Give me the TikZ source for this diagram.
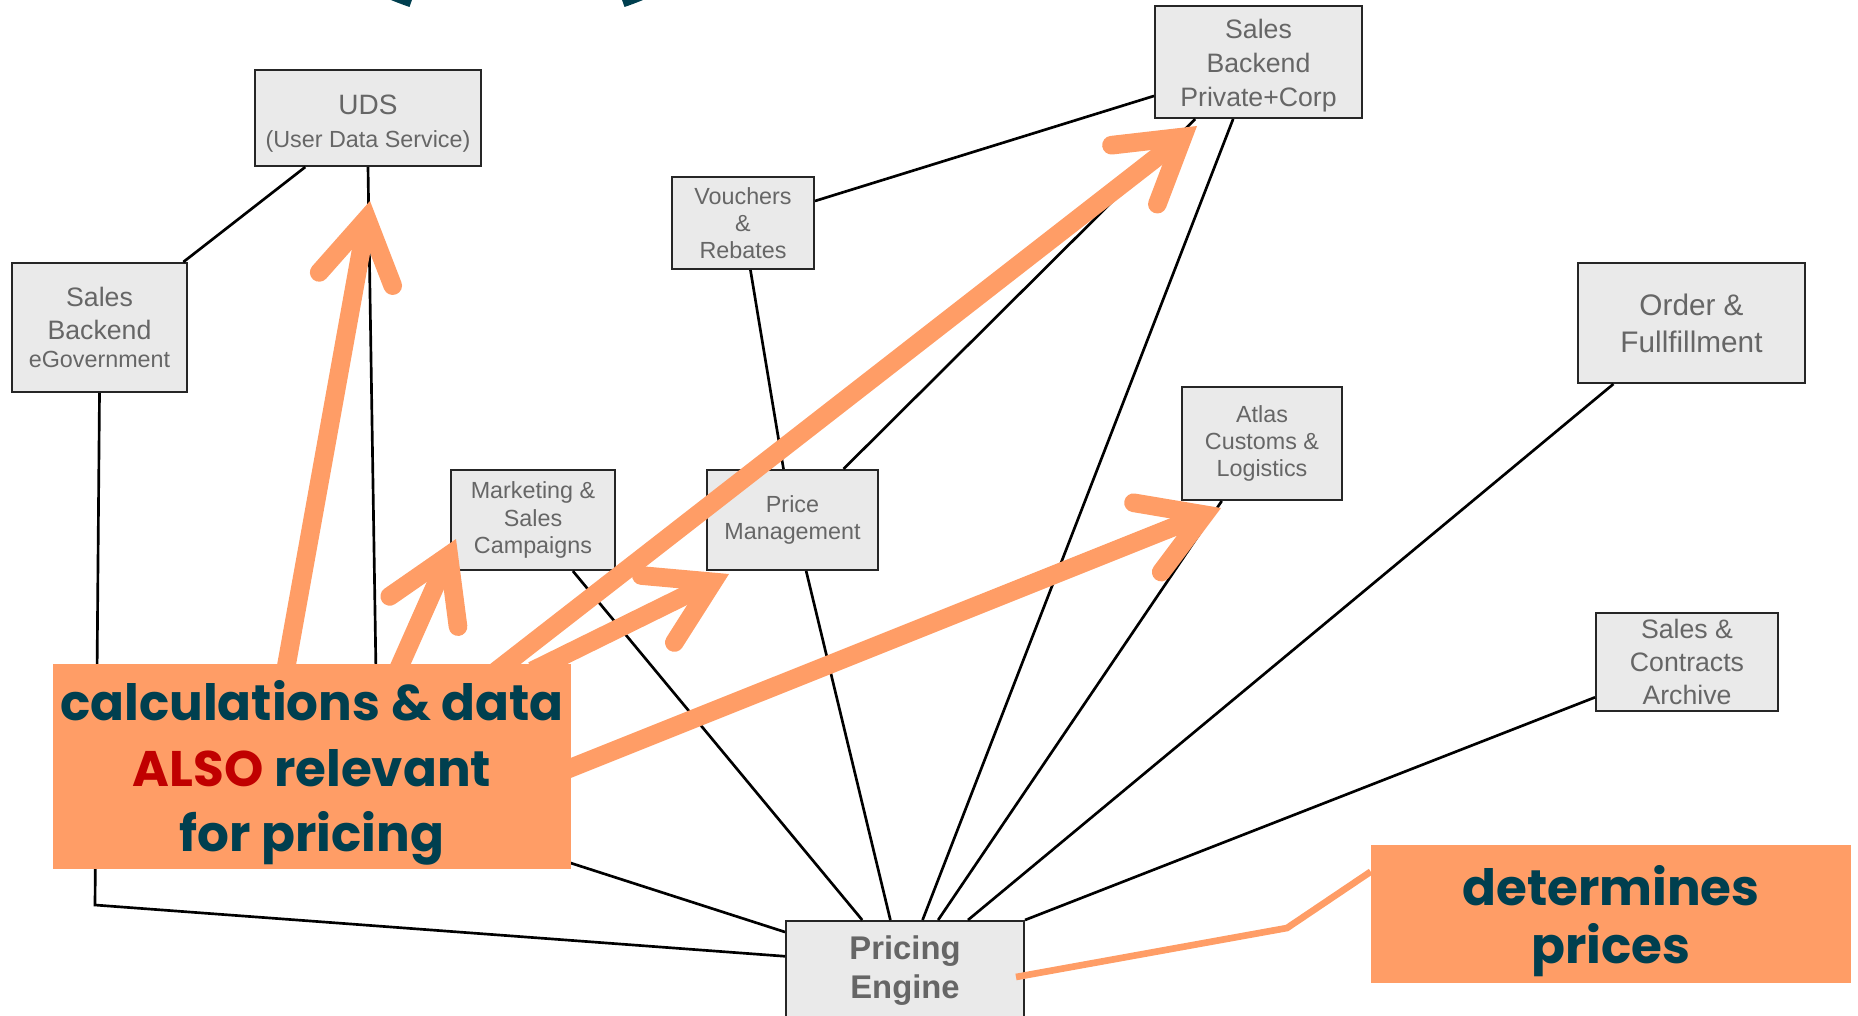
\documentclass[tikz,border=0pt]{standalone}
\usepackage{fontspec}
\setmainfont{Liberation Sans}
\newfontfamily\hintfont{Poppins}
\usetikzlibrary{arrows.meta,calc}
\definecolor{sysfill}{HTML}{EAEAEA}
\definecolor{systext}{HTML}{666666}
\definecolor{hintorange}{HTML}{FF9D66}
\definecolor{hintteal}{HTML}{003F4F}
\definecolor{hintred}{HTML}{C00000}

\begin{document}
\begin{tikzpicture}[x=0.75pt,y=0.75pt,yscale=-1,xscale=1,
  sys/.style={draw=black!85,line width=1.5pt,fill=sysfill,text=systext,align=center,inner sep=0pt,font=\fontsize{17.5}{20.4}\selectfont},
  wire/.style={line width=2pt},
  hint/.style={fill=hintorange,inner sep=0pt},
  hinttext/.style={text=hintteal,align=center,inner sep=0pt,font=\hintfont\bfseries\fontsize{37.5}{49}\selectfont},
  pointer/.style={draw=hintorange,line width=14pt,shorten <=-12pt,-{Straight Barb[line cap=round,line join=miter,length=46pt,width=56pt]}}]
\useasboundingbox (0,0) rectangle (1858,1016);

% Ring
\draw [hintteal,line width=15pt] (517,-305) ++(109:320) arc [start angle=109,end angle=431,radius=320];

% Text Node
\node [sys,minimum width=169.5pt,minimum height=72pt] (uds) at (368,118) {\rule{0pt}{23pt}{\fontsize{21}{25}\selectfont UDS}\\[4pt](User Data Service)};
% Text Node
\node [sys,minimum width=131.25pt,minimum height=96.75pt,font=\fontsize{20}{25}\selectfont] (egov) at (99.5,327.5) {Sales\\Backend\\[-4pt]{\fontsize{17.5}{20}\selectfont eGovernment}};
% Text Node
\node [sys,minimum width=106.5pt,minimum height=69pt] (vouch) at (743,223) {Vouchers\\\&\\Rebates};
% Text Node
\node [sys,minimum width=155.25pt,minimum height=84pt,font=\fontsize{20}{25.3}\selectfont] (pc) at (1258.5,62) {\rule{0pt}{20pt}Sales\\Backend\\Private+Corp};
% Text Node
\node [sys,minimum width=170.25pt,minimum height=90pt,font=\fontsize{22.3}{27.6}\selectfont] (order) at (1691.5,323) {Order \&\\Fullfillment};
% Text Node
\node [sys,minimum width=120pt,minimum height=84.75pt] (atlas) at (1262,443.5) {Atlas\\Customs \&\\Logistics};
% Text Node
\node [sys,minimum width=123pt,minimum height=75pt] (mkt) at (533,520) {Marketing \&\\Sales\\Campaigns};
% Text Node
\node [sys,minimum width=128.25pt,minimum height=75pt] (pm) at (792.5,520) {Price\\Management};
% Text Node
\node [sys,minimum width=136.5pt,minimum height=73.5pt,font=\fontsize{20}{24.9}\selectfont] (arch) at (1687,662) {Sales \&\\Contracts\\Archive};
% Text Node
\node [sys,minimum width=178.5pt,minimum height=75pt,font=\bfseries\fontsize{24.6}{29.3}\selectfont] (pe) at (905,971) {Pricing\\Engine};

\coordinate (udsbend) at (378,801);
\coordinate (egovbend) at (95,905);
\coordinate (pricebend) at (1287,928);

% Connection
\draw [wire] (uds.218) -- (egov.38);
% Connection
\draw [wire] (uds.south) -- (udsbend) -- (pe.162);
% Connection
\draw [wire] (egov.south) -- (egovbend) -- (pe.173);
% Connection
\draw [wire] (mkt.-52) -- (pe.130);
% Connection
\draw [wire] (vouch.17) -- (pc.198);
% Connection
\draw [wire] (vouch.-81) -- (pm.100);
% Connection
\draw [wire] (pm.45) -- (pc.222);
% Connection
\draw [wire] (pm.-75) -- (pe.106);
% Connection
\draw [wire] (pc.246) -- (pe.71);
% Connection
\draw [wire] (atlas.235) -- (pe.57);
% Connection
\draw [wire] (order.218) -- (pe.39);
% Connection
\draw [wire] (arch.201) -- (pe.north east);

% Callout
\node [hint,minimum width=388.5pt,minimum height=153.75pt] (calla) at (312,766.5) {};
\node [hinttext] (callatext) at (312,773) {calculations \& data\\{\color{hintred}ALSO} relevant\\for pricing};
% Callout
\node [hint,minimum width=360pt,minimum height=103.5pt] (callb) at (1611,914) {};
\node [hinttext,font=\hintfont\bfseries\fontsize{37.5}{44}\selectfont] (callbtext) at (1611,921) {determines\\prices};

% Pointer
\draw [pointer] ($(calla.north west)+(234,0)$) -- ($(uds.south)+(2,34)$);
% Pointer
\draw [pointer] ($(calla.north west)+(348,0)$) -- ($(mkt.south west)+(6,-32)$);
% Pointer
\draw [pointer] ($(calla.north west)+(453,0)$) -- ($(pc.south west)+(43,7)$);
% Pointer
\draw [pointer] ($(calla.north west)+(494,0)$) -- ($(pm.south west)+(23,3)$);
% Pointer
\draw [pointer] ($(calla.north east)+(0,104)$) -- ($(atlas.south west)+(40,7)$);
% Connection
\draw [hintorange,line width=5pt] ($(pe.east)+(-9,6)$) -- (pricebend) -- (callb.170);

\end{tikzpicture}
\end{document}
